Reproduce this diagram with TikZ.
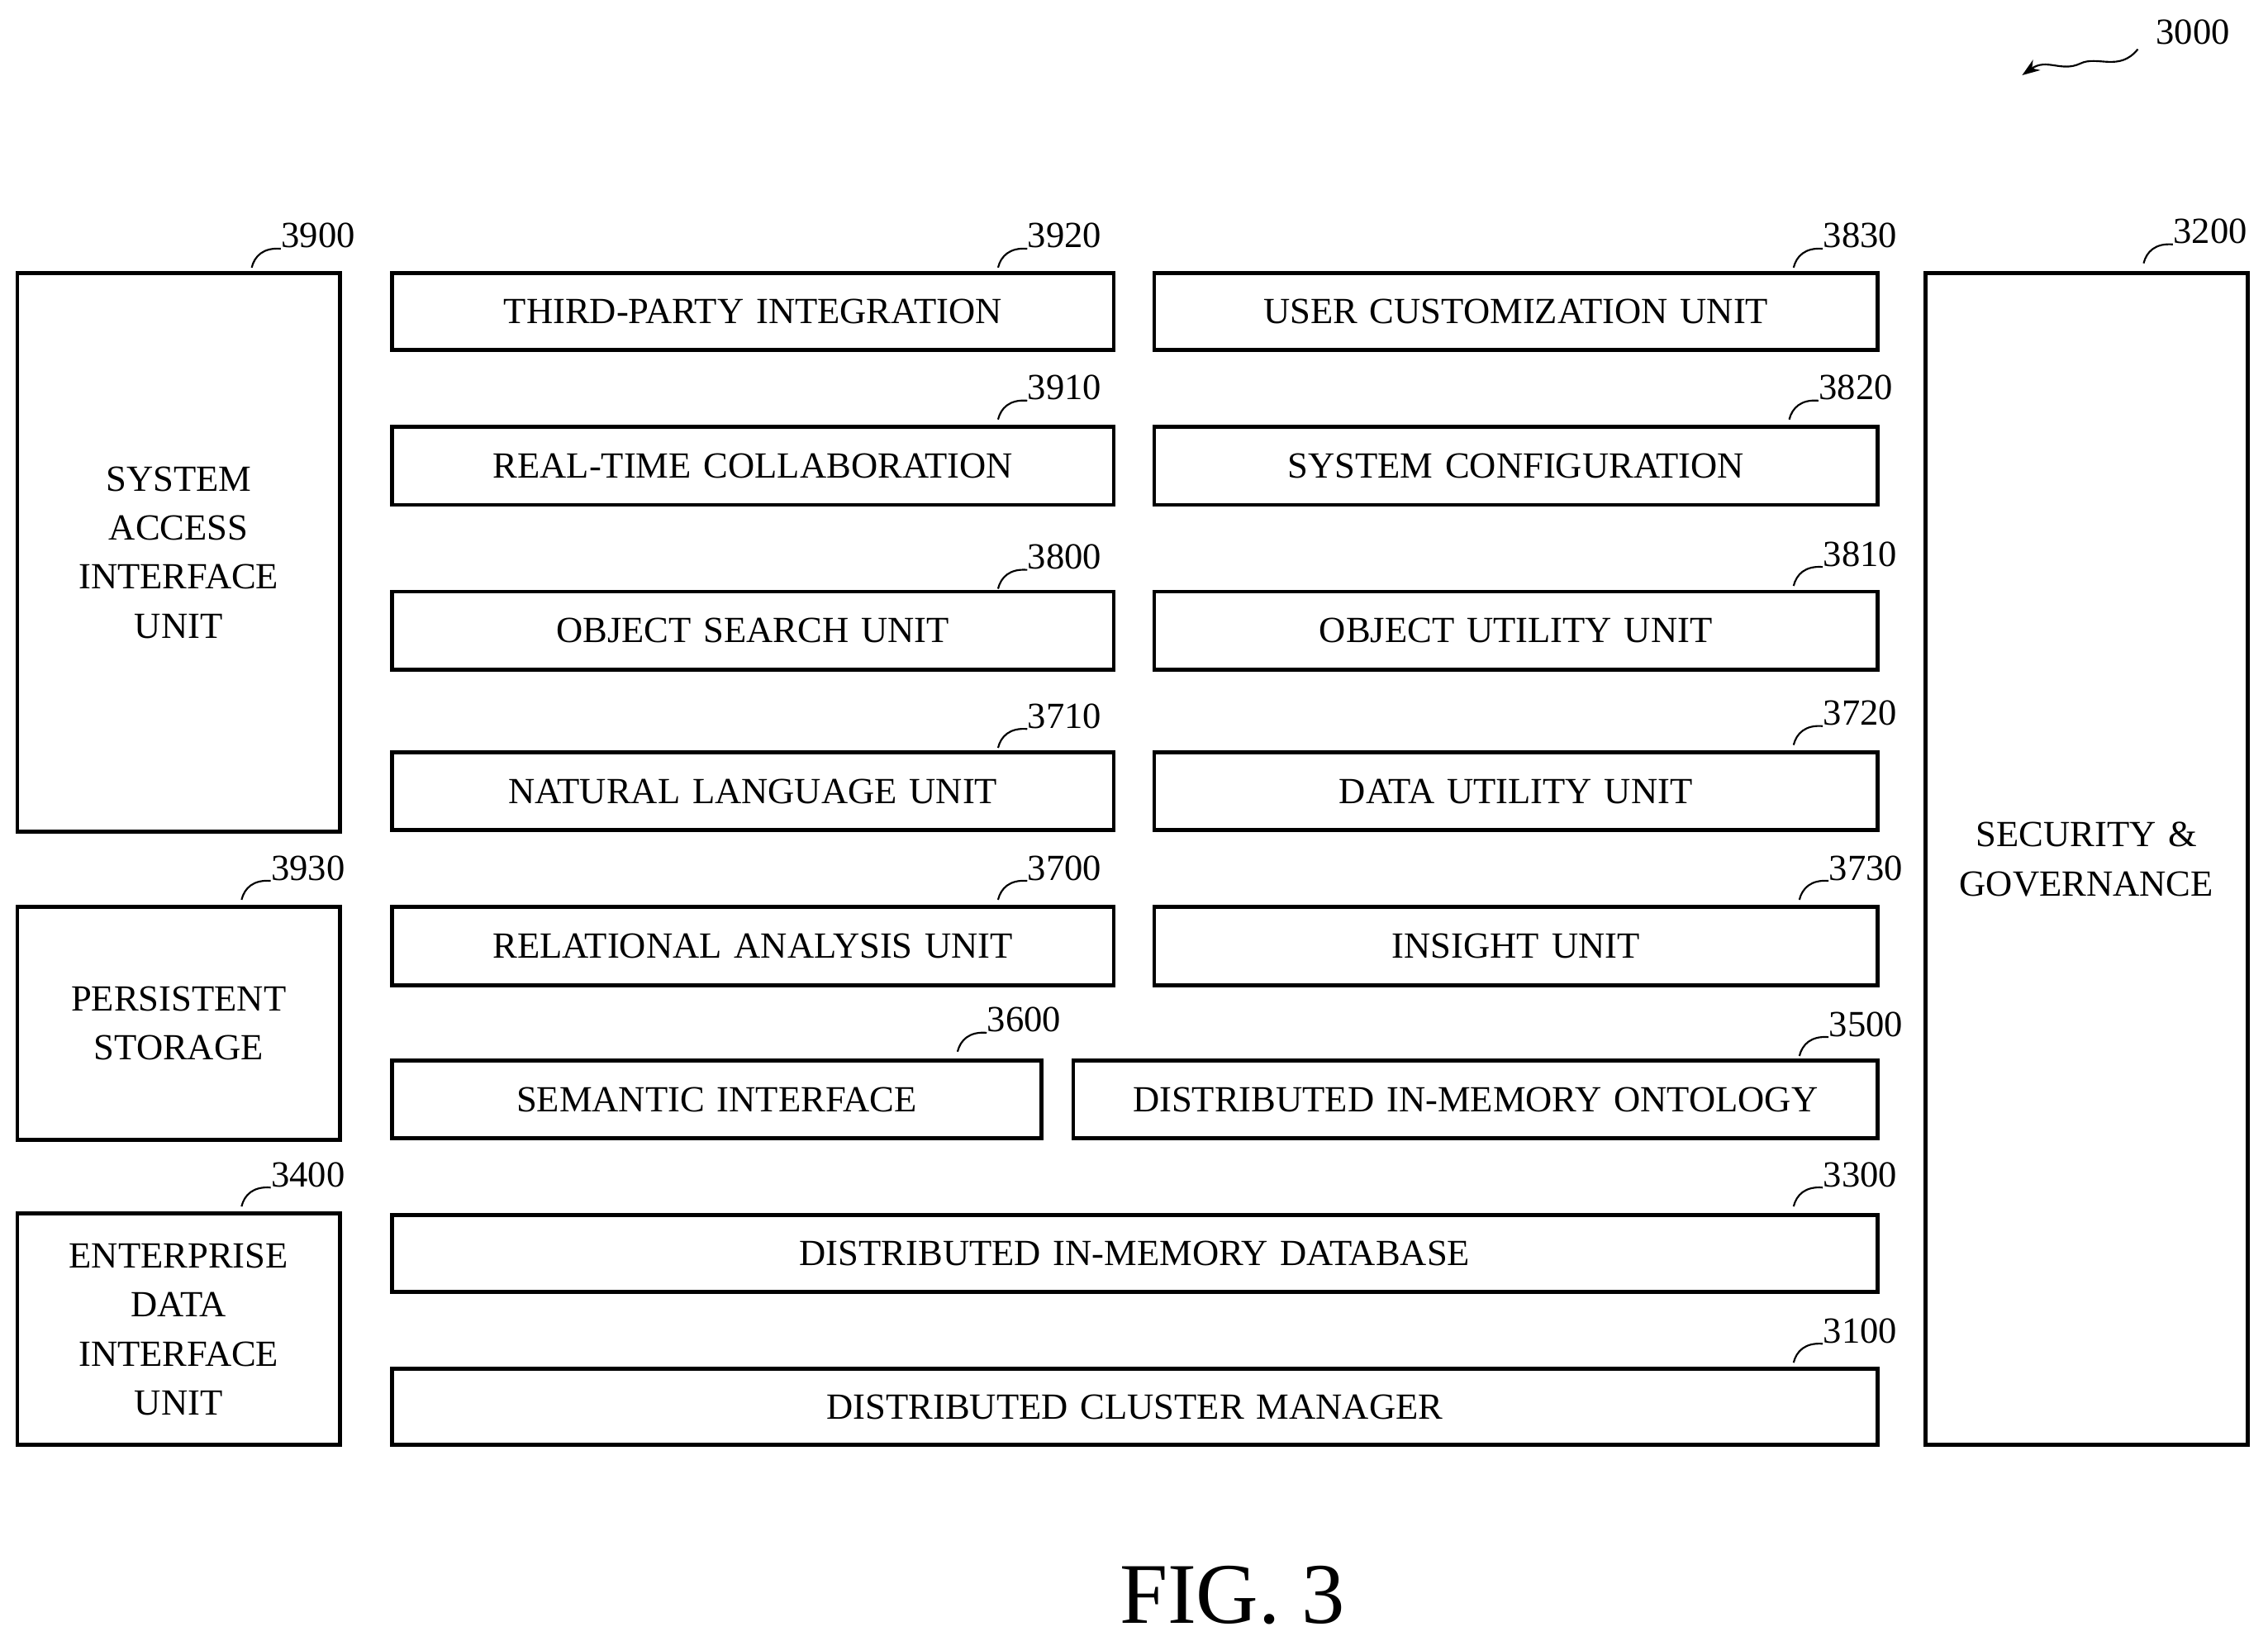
\documentclass[tikz,border=0pt]{standalone}
\usepackage{fontspec}
\setmainfont{Liberation Serif}
\usetikzlibrary{arrows.meta}
\tikzset{
  box/.style={draw,line width=1.6pt,inner sep=0pt,align=center,font=\fontsize{14.5}{19.3}\selectfont},
  lbl/.style={inner sep=0pt,font=\fontsize{14.5}{17}\selectfont},
  lead/.style={line width=0.7pt}
}
\newcommand\bx[6]{\node[box,minimum width={(#4-#2)*0.02cm},minimum height={(#5-#3)*0.02cm},text width={(#4-#2)*0.02cm-0.3cm}] (#1) at ({(#2+#4)/2},{(#3+#5)/2}) {#6};}
\newcommand\ld[3]{\node[lbl] (l#1) at (#2,#3) {#1};
  \draw[lead] (#2-46,#3+22) .. controls (#2-44,#3+14) and (#2-38,#3+8) .. (l#1.south west);}
\begin{document}
\begin{tikzpicture}[x=0.02cm,y=-0.02cm]
\useasboundingbox (0,0) rectangle (1568,1134);
\bx{b3900}{12}{189}{235}{575}{SYSTEM\\ACCESS\\INTERFACE\\UNIT}
\bx{b3930}{12}{627}{235}{788}{PERSISTENT\\STORAGE}
\bx{b3400}{12}{839}{235}{999}{ENTERPRISE\\DATA\\INTERFACE\\UNIT}
\bx{b3920}{271}{189}{770}{242}{THIRD-PARTY INTEGRATION}
\bx{b3910}{271}{295}{770}{349}{REAL-TIME COLLABORATION}
\bx{b3800}{271}{409}{770}{463}{OBJECT SEARCH UNIT}
\bx{b3710}{271}{520}{770}{574}{NATURAL LANGUAGE UNIT}
\bx{b3700}{271}{627}{770}{681}{RELATIONAL ANALYSIS UNIT}
\bx{b3600}{271}{733}{720}{787}{SEMANTIC INTERFACE}
\bx{b3830}{798}{189}{1298}{242}{USER CUSTOMIZATION UNIT}
\bx{b3820}{798}{295}{1298}{349}{SYSTEM CONFIGURATION}
\bx{b3810}{798}{409}{1298}{463}{OBJECT UTILITY UNIT}
\bx{b3720}{798}{520}{1298}{574}{DATA UTILITY UNIT}
\bx{b3730}{798}{627}{1298}{681}{INSIGHT UNIT}
\bx{b3500}{742}{733}{1298}{787}{DISTRIBUTED IN-MEMORY ONTOLOGY}
\bx{b3300}{271}{840}{1298}{893}{DISTRIBUTED IN-MEMORY DATABASE}
\bx{b3100}{271}{946}{1298}{999}{DISTRIBUTED CLUSTER MANAGER}
\bx{b3200}{1331}{189}{1554}{999}{SECURITY \&\\GOVERNANCE}
\ld{3900}{220}{163}
\ld{3930}{213}{600}
\ld{3400}{213}{812}
\ld{3920}{736}{163}
\ld{3910}{736}{268}
\ld{3800}{736}{385}
\ld{3710}{736}{495}
\ld{3700}{736}{600}
\ld{3600}{708}{705}
\ld{3830}{1286}{163}
\ld{3820}{1283}{268}
\ld{3810}{1286}{383}
\ld{3720}{1286}{493}
\ld{3730}{1290}{600}
\ld{3500}{1290}{708}
\ld{3300}{1286}{812}
\ld{3100}{1286}{920}
\ld{3200}{1528}{160}
\node[lbl] (l3000) at (1516,22) {3000};
\coordinate (a3000) at (1398,52);
\draw[lead,-{Stealth[length=7pt,width=5pt]}] (1478,34) .. controls (1465,50) and (1450,38) .. (1438,44) .. controls (1425,50) and (1415,40) .. (a3000);
\node[inner sep=0pt,font=\fontsize{34}{40}\selectfont] (fig) at (852,1103) {FIG. 3};
\end{tikzpicture}
\end{document}
